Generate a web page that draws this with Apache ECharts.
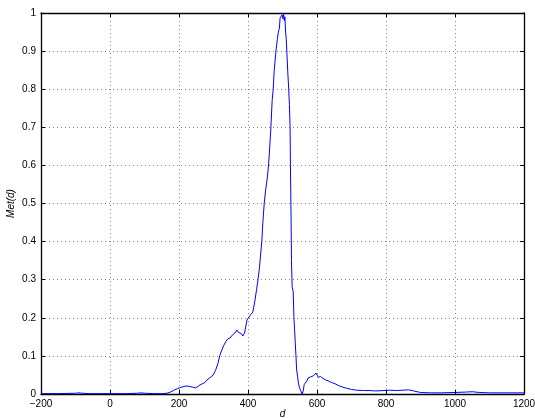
<!DOCTYPE html>
<html><head><meta charset="utf-8">
<script src="https://cdn.jsdelivr.net/npm/echarts@6/dist/echarts.min.js"></script>
<style>html,body{margin:0;padding:0;background:#fff}#c{width:535px;height:418px}</style>
</head><body><div id="c"></div>
<script>
const xTicks = [-200, 0, 200, 400, 600, 800, 1000, 1200];
const yTicks = [0, 0.1, 0.2, 0.3, 0.4, 0.5, 0.6, 0.7, 0.8, 0.9, 1];
const dVals = [-200,-150,-100,-90,-80,-60,0,50,80,90,100,130,150,165,175,185,195,203,212,220,230,240,248,255,261,268,275,281,290,299,306,313,318,324,330,336,342,348,355,362,368,372,377,381,385,390,397,405,414,420,425,429,433,437,440,443,447,451,456,460,466,470,473,476,479,481,485,488,491,493,496,499,501,503,505,507,509,511,513,515,518,520,522,523,525,526,528,531,533,535,537,539,541,544,546,549,552,554,557,560,563,565,568,571,574,578,582,585,590,594,597,600,604,610,617,625,632,638,645,652,657,665,675,686,700,715,735,754,770,791,810,831,850,865,880,900,930,960,1000,1030,1050,1070,1100,1150,1200];
const metVals = [0.001,0.001,0.002,0.003,0.002,0.001,0.001,0.001,0.002,0.003,0.002,0.001,0.001,0.002,0.005,0.01,0.014,0.017,0.019,0.021,0.02,0.018,0.016,0.02,0.024,0.027,0.03,0.037,0.043,0.05,0.062,0.081,0.1,0.115,0.128,0.138,0.145,0.147,0.155,0.16,0.168,0.162,0.165,0.158,0.152,0.16,0.194,0.205,0.215,0.245,0.275,0.3,0.33,0.37,0.40,0.449,0.50,0.535,0.567,0.606,0.693,0.77,0.8,0.85,0.88,0.90,0.93,0.95,0.96,0.987,0.99,0.995,0.985,1.0,0.98,0.99,0.95,0.93,0.93,0.85,0.80,0.76,0.70,0.6,0.45,0.35,0.28,0.27,0.203,0.17,0.134,0.1,0.063,0.045,0.029,0.018,0.01,0.006,0.0,0.008,0.025,0.029,0.022,0.035,0.042,0.038,0.045,0.045,0.048,0.05,0.055,0.05,0.044,0.046,0.041,0.037,0.035,0.032,0.029,0.027,0.024,0.021,0.018,0.015,0.012,0.01,0.009,0.009,0.008,0.009,0.01,0.009,0.01,0.011,0.008,0.004,0.003,0.003,0.004,0.005,0.006,0.004,0.003,0.003,0.003];

const chart = echarts.init(document.getElementById('c'), null, {renderer:'canvas'});
const font = 'Liberation Sans, Arial, sans-serif';
const fmt = v => String(v).replace('-', '\u2212');
const gridLine = {show:true, lineStyle:{color:'#888', type:[1,3], width:1}};
chart.setOption({
  animation:false,
  grid:{left:41, right:11, top:13, bottom:24, containLabel:false, outerBoundsMode:'none'},
  xAxis:[{
    type:'value', min:-200, max:1200, interval:200,
    name:'d', nameLocation:'middle', nameGap:15, nameMoveOverlap:false,
    nameTextStyle:{fontFamily:font, fontSize:10, fontStyle:'italic', color:'#000'},
    axisLine:{show:true, onZero:false, lineStyle:{color:'#000', width:1.3}},
    axisTick:{show:true, inside:true, length:4, lineStyle:{color:'#000'}},
    axisLabel:{fontFamily:font, fontSize:10, color:'#000', margin:5, formatter:fmt},
    splitLine:gridLine
  },{
    type:'value', min:-200, max:1200, interval:200, position:'top',
    axisLine:{show:true, onZero:false, lineStyle:{color:'#000', width:1.3}},
    axisTick:{show:true, inside:true, length:4, lineStyle:{color:'#000'}},
    axisLabel:{show:false}, splitLine:{show:false}
  }],
  yAxis:[{
    type:'value', min:0, max:1, interval:0.1,
    name:'Met(d)', nameLocation:'middle', nameGap:25, nameMoveOverlap:false,
    nameTextStyle:{fontFamily:font, fontSize:10, fontStyle:'italic', color:'#000'},
    axisLine:{show:true, onZero:false, lineStyle:{color:'#000', width:1.3}},
    axisTick:{show:true, inside:true, length:4, lineStyle:{color:'#000'}},
    axisLabel:{fontFamily:font, fontSize:10, color:'#000', margin:5, formatter:v=>String(Math.round(v*10)/10)},
    splitLine:gridLine
  },{
    type:'value', min:0, max:1, interval:0.1, position:'right',
    axisLine:{show:true, onZero:false, lineStyle:{color:'#000', width:1.3}},
    axisTick:{show:true, inside:true, length:4, lineStyle:{color:'#000'}},
    axisLabel:{show:false}, splitLine:{show:false}
  }],
  series:[{
    type:'line', showSymbol:false, symbol:'none',
    data:dVals.map((d,i)=>[d, metVals[i]]),
    lineStyle:{color:'#0000ff', width:1}, itemStyle:{color:'#0000ff'}
  }]
});
</script></body></html>
